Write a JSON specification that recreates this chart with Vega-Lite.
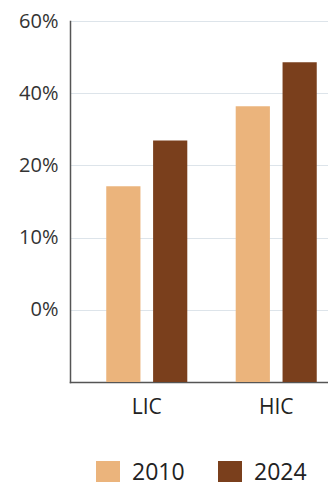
{
  "$schema": "https://vega.github.io/schema/vega-lite/v6.json",
  "width": 283,
  "height": 361,
  "autosize": {"type": "none"},
  "padding": {"left": 70, "top": 21, "right": 0, "bottom": 100},
  "background": "white",
  "data": {
    "values": [
      {"group": "LIC", "year": "2010", "value": 17.1},
      {"group": "LIC", "year": "2024", "value": 26.9},
      {"group": "HIC", "year": "2010", "value": 36.4},
      {"group": "HIC", "year": "2024", "value": 48.6}
    ]
  },
  "mark": {"type": "bar"},
  "encoding": {
    "x": {
      "field": "group",
      "type": "nominal",
      "sort": ["LIC", "HIC"],
      "scale": {"paddingInner": 0.374, "paddingOuter": 0.28},
      "axis": {
        "title": null,
        "labelAngle": 0,
        "ticks": false,
        "labelPadding": 14,
        "labelFont": "Open Sans",
        "labelFontSize": 21,
        "labelColor": "#222222",
        "domainColor": "#555555",
        "domainWidth": 1.5,
        "grid": false
      }
    },
    "xOffset": {
      "field": "year",
      "type": "nominal",
      "scale": {"paddingInner": 0.27, "paddingOuter": 0}
    },
    "y": {
      "field": "value",
      "type": "quantitative",
      "scale": {
        "domain": [-10, 0, 10, 20, 40, 60],
        "range": [361, 288.8, 216.6, 144.4, 72.2, 0],
        "nice": false,
        "zero": false
      },
      "axis": {
        "title": null,
        "values": [0, 10, 20, 40, 60],
        "labelExpr": "datum.value + '%'",
        "ticks": false,
        "labelPadding": 12,
        "labelFont": "Open Sans",
        "labelFontSize": 20,
        "labelColor": "#333333",
        "domainColor": "#555555",
        "domainWidth": 1.5,
        "grid": true,
        "gridColor": "#dde4ea",
        "gridWidth": 1
      }
    },
    "y2": {"datum": -10},
    "color": {
      "field": "year",
      "type": "nominal",
      "scale": {"domain": ["2010", "2024"], "range": ["#ebb47c", "#7a3f1c"]},
      "legend": {
        "title": null,
        "orient": "none",
        "direction": "horizontal",
        "legendX": 26,
        "legendY": 440,
        "symbolType": "square",
        "symbolSize": 576,
        "symbolStrokeWidth": 0,
        "labelFont": "Open Sans",
        "labelFontSize": 23,
        "labelColor": "#222222",
        "labelOffset": 12,
        "columnPadding": 33,
        "symbolOpacity": 1,
        "encode": {
          "symbols": {
            "update": {
              "fill": [
                {"test": "datum.value === '2024'", "value": "#5c2f17"},
                {"value": "#ebb47c"}
              ],
              "stroke": {"value": "transparent"}
            }
          }
        }
      }
    }
  },
  "config": {
    "view": {"stroke": null},
    "axis": {"domainCap": "square"}
  }
}
